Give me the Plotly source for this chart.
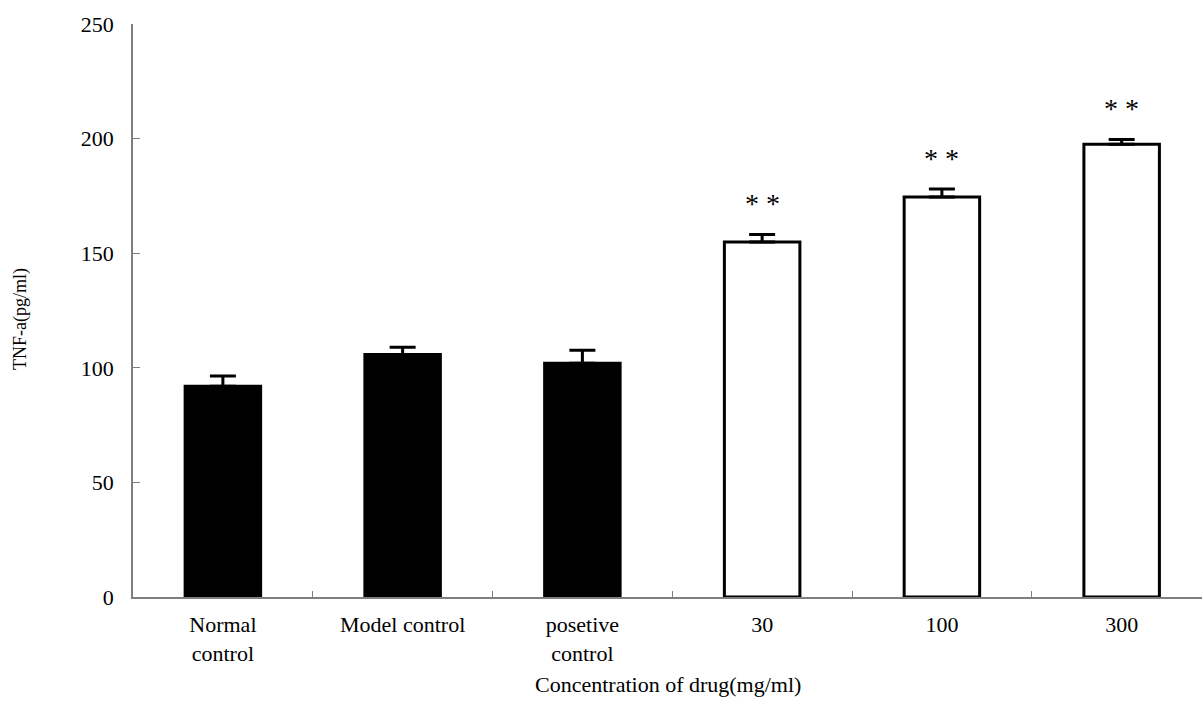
import plotly.graph_objects as go

# TNF-a levels by treatment group
categories = ["Normal<br>control", "Model control", "posetive<br>control", "30", "100", "300"]
tnf_mean = [92.0, 105.8, 102.0, 154.9, 174.5, 197.5]
tnf_err = [4.4, 3.2, 5.7, 3.3, 3.5, 2.1]
significance = ["", "", "", "**", "**", "**"]
fill_colors = ["black", "black", "black", "white", "white", "white"]

FONT = "Liberation Serif"
AXIS_GREY = "#7f7f7f"

fig = go.Figure()
fig.add_trace(go.Bar(
    x=categories,
    y=tnf_mean,
    width=0.42,
    marker=dict(color=fill_colors, line=dict(color="black", width=3)),
    error_y=dict(type="data", array=tnf_err, arrayminus=[0] * len(tnf_err),
                 symmetric=False, color="black", thickness=3, width=13),
    showlegend=False,
))

# significance markers above the error bars (x given as category index)
for i, (m, e, s) in enumerate(zip(tnf_mean, tnf_err, significance)):
    if s:
        fig.add_annotation(x=i, y=m + e, text="* *", showarrow=False,
                           xanchor="center", yanchor="middle", yshift=31,
                           font=dict(family=FONT, size=28, color="black"))

fig.add_annotation(text="TNF-a(pg/ml)", xref="paper", yref="paper",
                   x=-0.1057, y=0.485, textangle=-90, showarrow=False,
                   xanchor="center", yanchor="middle",
                   font=dict(family=FONT, size=18, color="black"))
fig.add_annotation(text="Concentration of drug(mg/ml)", xref="paper", yref="paper",
                   x=0.5, y=-0.153, showarrow=False,
                   xanchor="center", yanchor="middle",
                   font=dict(family=FONT, size=22, color="black"))

fig.update_layout(
    width=1202, height=702,
    margin=dict(l=133, r=0, t=24, b=105),
    plot_bgcolor="white", paper_bgcolor="white",
    font=dict(family=FONT, size=20, color="black"),
)
fig.update_xaxes(
    type="category", range=[-0.5, 5.447],
    showline=True, linecolor=AXIS_GREY, linewidth=1.5,
    ticks="inside", tickson="boundaries", ticklen=6, tickcolor=AXIS_GREY,
    showgrid=False, zeroline=False, ticklabelstandoff=7,
    tickfont=dict(family=FONT, size=22, color="black"),
)
fig.update_yaxes(
    range=[0, 250], dtick=50,
    showline=True, linecolor=AXIS_GREY, linewidth=1.5,
    ticks="inside", ticklen=7, tickcolor=AXIS_GREY,
    showgrid=False, zeroline=False, ticklabelstandoff=13,
    tickfont=dict(family=FONT, size=22, color="black"),
)

fig.write_html("out.html")
